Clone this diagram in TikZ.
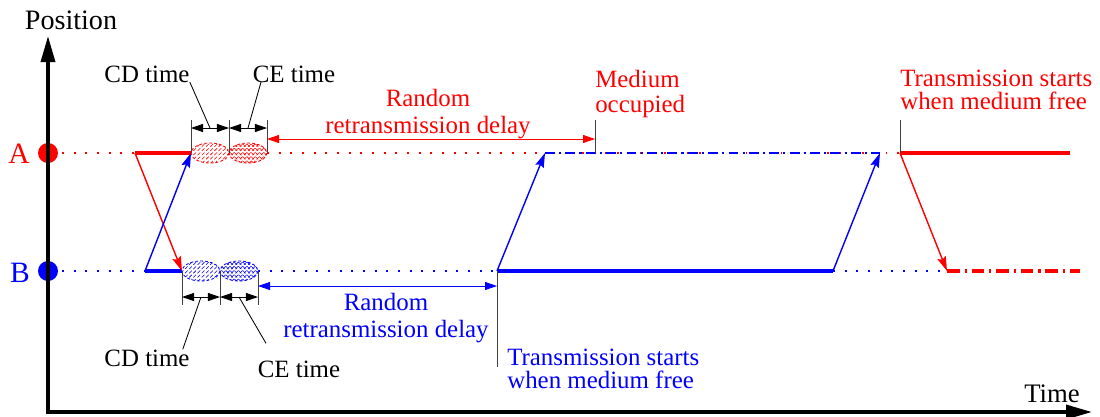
\documentclass[tikz,border=0pt]{standalone}
\usepackage{fontspec}
\setmainfont{Liberation Serif}
\usetikzlibrary{arrows.meta, patterns, calc, positioning}

\begin{document}
\begin{tikzpicture}[x=0.025cm, y=-0.025cm, font=\fontsize{17.7}{16.5}\selectfont]
	\tikzstyle{axisline} = [line width=2.4pt, -{Triangle[length=0.65cm, width=0.35cm]}]
	\tikzstyle{sigarrow} = [line width=1pt, -{Stealth[length=0.36cm, width=0.22cm, inset=0.05cm]}]
	\tikzstyle{busyline} = [line width=2.2pt]
	\tikzstyle{idleline} = [line width=1.3pt, dash pattern=on 1.3pt off 7pt]
	\tikzstyle{waitline} = [line width=1.5pt, dash pattern=on 7pt off 3pt on 1.5pt off 3pt]
	\tikzstyle{tickline} = [line width=0.7pt, gray!50!black]
	\tikzstyle{spanarrow} = [line width=0.6pt, {Triangle[length=0.3cm, width=0.2cm]}-{Triangle[length=0.3cm, width=0.2cm]}]
	\tikzstyle{burstline} = [line width=0.6pt, dash pattern=on 2pt off 1.5pt]
	\tikzstyle{leader} = [line width=0.6pt]
	\tikzstyle{txt} = [inner sep=0pt]
	\tikzstyle{station} = [inner sep=0pt, font=\fontsize{21}{21}\selectfont]

	\useasboundingbox (0,0) rectangle (1100,416);

	% stations
	\coordinate (Adot) at (48,153);
	\coordinate (Bdot) at (48,271);
	\fill[red] (Adot) circle [radius=10];
	\fill[blue] (Bdot) circle [radius=10];
	\node[station, red, anchor=base] (A) at (19,163) {A};
	\node[station, blue, anchor=base] (B) at (20,282) {B};

	% axes
	\coordinate (o) at (48,412);
	\coordinate (ytop) at (48,36);
	\coordinate (xend) at (1092,412);
	\draw[axisline, line cap=rect] (o) -- (ytop);
	\draw[axisline] (o) -- (xend);
	\node[txt, anchor=base, font=\fontsize{20}{20}\selectfont] (position) at (71,29) {Position};
	\node[txt, anchor=base, font=\fontsize{19}{19}\selectfont] (time) at (1052,402) {Time};

	% time points on A
	\coordinate (a0) at (62,153);
	\coordinate (a1) at (135,153);
	\coordinate (a2) at (191,153);
	\coordinate (a3) at (229,153);
	\coordinate (a4) at (267,153);
	\coordinate (a5) at (545,153);
	\coordinate (a6) at (595,153);
	\coordinate (a7) at (880,153);
	\coordinate (a8) at (900,153);
	\coordinate (a9) at (1070,153);

	% time points on B
	\coordinate (b0) at (62,271);
	\coordinate (b1) at (145,271);
	\coordinate (b2) at (182,271);
	\coordinate (b3) at (220,271);
	\coordinate (b4) at (258,271);
	\coordinate (b5) at (497,271);
	\coordinate (b6) at (833,271);
	\coordinate (b7) at (947,271);
	\coordinate (b8) at (1080,271);

	% station A
	\draw[red, idleline] (a0) -- (a1);
	\draw[red, busyline] (a1) -- (a2);
	\draw[red, idleline] (a4) -- (a8);
	\draw[blue, waitline] (a5) -- (a7);
	\draw[red, busyline] (a8) -- (a9);

	% station B
	\draw[blue, idleline] (b0) -- (b1);
	\draw[blue, busyline] (b1) -- (b2);
	\draw[blue, idleline] (b4) -- (b5);
	\draw[blue, busyline] (b5) -- (b6);
	\draw[blue, idleline] (b6) -- (b7);
	\draw[red, busyline, dash pattern=on 9pt off 3.5pt on 1.5pt off 3.5pt] (b7) -- (b8);

	% frames on the medium
	\path[sigarrow]
		(a1) edge[red] (b2)
		(b1) edge[blue] (a2)
		(b5) edge[blue] (a5)
		(b6) edge[blue] (a7)
		(a8) edge[red] (b7)
	;

	% collisions
	\draw[red, burstline, pattern=north east lines, pattern color=red] ($(a2)!0.5!(a3)$) ellipse [x radius=19, y radius=10];
	\draw[red, burstline, pattern=crosshatch, pattern color=red] ($(a3)!0.5!(a4)$) ellipse [x radius=19, y radius=10];
	\draw[blue, burstline, pattern=north east lines, pattern color=blue] ($(b2)!0.5!(b3)$) ellipse [x radius=19, y radius=10];
	\draw[blue, burstline, pattern=crosshatch, pattern color=blue] ($(b3)!0.5!(b4)$) ellipse [x radius=19, y radius=10];

	% markers
	\coordinate (upA) at (0,120);
	\coordinate (dnB) at (0,305);
	\coordinate (lowB) at (0,367);
	\foreach \p in {a2,a3,a4,a6,a8}
		\draw[tickline] (\p) -- (\p |- upA);
	\foreach \p in {b2,b3,b4}
		\draw[tickline] (\p) -- (\p |- dnB);
	\draw[tickline] (b5) -- (b5 |- lowB);

	% spans
	\coordinate (dA) at (0,128);
	\coordinate (dB) at (0,297);
	\coordinate (rA) at (0,139);
	\coordinate (rB) at (0,286);
	\draw[spanarrow] (a2 |- dA) -- (a3 |- dA);
	\draw[spanarrow] (a3 |- dA) -- (a4 |- dA);
	\draw[spanarrow] (b2 |- dB) -- (b3 |- dB);
	\draw[spanarrow] (b3 |- dB) -- (b4 |- dB);
	\draw[spanarrow, red] (a4 |- rA) -- (a6 |- rA);
	\draw[spanarrow, blue] (b4 |- rB) -- (b5 |- rB);

	% labels
	\node[txt, anchor=base] (cdA) at (147,82) {CD time};
	\node[txt, anchor=base] (ceA) at (294,82) {CE time};
	\node[txt, anchor=base] (cdB) at (147,366) {CD time};
	\node[txt, anchor=base] (ceB) at (299,377) {CE time};
	\draw[leader] (cdA.base east) -- ($(a2 |- dA)!0.5!(a3 |- dA)$);
	\draw[leader] ([xshift=6pt]ceA.base west) -- ($(a3 |- dA)!0.5!(a4 |- dA)$);
	\draw[leader] ([xshift=-5pt]cdB.north east) -- ($(b2 |- dB)!0.5!(b3 |- dB)$);
	\draw[leader] ([xshift=6pt, yshift=12pt]ceB.north west) -- ($(b3 |- dB)!0.5!(b4 |- dB)$);

	\node[txt, red, anchor=north, align=center] (delayA) at (428,89) {Random\\[3pt]retransmission delay};
	\node[txt, blue, anchor=north, align=center] (delayB) at (386,293) {Random\\[3pt]retransmission delay};
	\node[txt, red, anchor=north west, align=left] (busyA) at (595,70) {Medium\\[1pt]occupied};
	\node[txt, red, anchor=north west, align=left] (freeA) at (900,70) {Transmission starts\\when medium free};
	\node[txt, blue, anchor=north west, align=left] (freeB) at (507,349) {Transmission starts\\when medium free};
\end{tikzpicture}
\end{document}
